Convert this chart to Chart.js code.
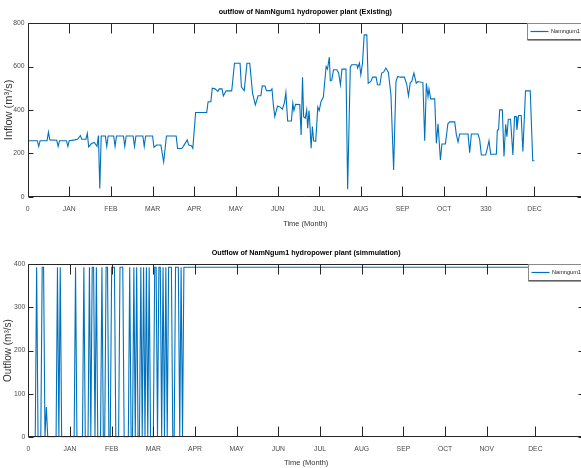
<!DOCTYPE html>
<html>
<head>
<meta charset="utf-8">
<script src="https://cdn.jsdelivr.net/npm/chart.js@4.4.1/dist/chart.umd.min.js"></script>
<style>
html, body { margin: 0; padding: 0; background: #fff; overflow: hidden; width: 581px; height: 468px; }
.box { position: absolute; left: 0; height: 234px; }
</style>
</head>
<body>
<div class="box" style="top:0;width:583px"><canvas id="topChart"></canvas></div>
<div class="box" style="top:234px;width:584px"><canvas id="bottomChart"></canvas></div>
<script>
// x ticks (day of year) and their labels
var tickDays = [0, 30, 60, 90, 120, 150, 180, 210, 240, 270, 300, 330, 365];
var topTickLabels = ['0', 'JAN', 'FEB', 'MAR', 'APR', 'MAY', 'JUN', 'JUL', 'AUG', 'SEP', 'OCT', '330', 'DEC'];
var bottomTickLabels = ['0', 'JAN', 'FEB', 'MAR', 'APR', 'MAY', 'JUN', 'JUL', 'AUG', 'SEP', 'OCT', 'NOV', 'DEC'];

// existing outflow
var existDays = [1, 7, 8, 9, 14, 15, 16, 21, 22, 23, 28, 29, 30, 34, 36, 38, 39, 42, 43, 44, 46, 48, 50, 51, 52, 53,
  56, 57, 58, 62, 63, 64, 69, 70, 71, 76, 77, 78, 83, 84, 85, 90, 91, 93, 96, 98, 100, 107, 108, 111, 112,
  115, 116, 118, 119, 121, 129, 130, 132, 133, 135, 137, 138, 140, 141, 143, 147, 149, 153, 154, 156, 158,
  160, 161, 162, 164, 166, 168, 169, 171, 172, 175, 176, 177, 178, 180, 182, 183.5, 185, 186, 187.3, 190,
  191, 191.8, 193, 196, 197, 198, 198.8, 200, 201, 201.7, 202.7, 203.4, 204.2, 205.1, 206, 207.5, 209, 210,
  211.3, 213, 215, 216, 217.3, 218, 219, 220.3, 222.7, 224, 225.3, 226.4, 229.3, 230.5, 232.4, 233.4, 237.2,
  237.7, 239, 240, 241.2, 242.4, 244.3, 245.3, 247.2, 248.5, 251, 252, 253.7, 255, 256.4, 258, 259.8, 261.7,
  263.6, 265.3, 266.5, 268.4, 271.4, 273.1, 274.3, 275.6, 276.7, 278.2, 279.9, 281.1, 284.7, 286, 287.2,
  288.4, 289.1, 290.3, 293.2, 294.4, 295.6, 297.3, 298.4, 300.9, 302.7, 304, 307.6, 308.8, 310, 311.2,
  317.2, 318.4, 319.6, 324.4, 325.6, 326.8, 329.9, 331.1, 332.3, 333.5, 337.6, 338.3, 339.2, 340, 341.9,
  343.1, 344.3, 345.2, 346.2, 347.8, 349.5, 350.7, 351.9, 352.4, 353.6, 355.5, 356.7, 358.6, 362, 363.8, 365];
var existFlow = [258, 258, 232, 258, 258, 298, 262, 260, 232, 258, 258, 232, 258, 262, 265, 282, 265, 265, 292, 230, 245, 250, 232, 282, 38, 280,
  280, 232, 280, 280, 232, 280, 280, 232, 280, 280, 232, 280, 280, 232, 280, 280, 228, 238, 238, 160, 280, 280, 222, 222, 231,
  262, 238, 235, 223, 388, 388, 438, 438, 500, 497, 485, 497, 497, 465, 488, 488, 615, 615, 505, 489, 615,
  615, 546, 477, 423, 465, 465, 511, 510, 489, 489, 497, 423, 369, 418, 413, 403, 434, 480, 349, 349,
  431, 397, 426, 425, 285, 551, 369, 362, 400, 316, 397, 323, 223, 323, 258, 255, 413, 397,
  438, 459, 600, 588, 643, 534, 536, 585, 585, 570, 516, 588, 588, 34, 597, 608, 608,
  593, 616, 562, 616, 746, 746, 523, 531, 551, 551, 516, 515, 570, 574, 593, 574, 469,
  123, 531, 554, 551, 551, 516, 465, 526, 531, 570, 523, 531, 526, 258, 523,
  461, 497, 451, 451, 246, 336, 169, 243, 243, 336, 345, 345, 285, 252, 289,
  289, 203, 289, 289, 262, 192, 192, 223, 258, 196, 196, 305, 311, 400, 400,
  185, 334, 277, 357, 357, 192, 369, 369, 308, 374, 374, 208, 488, 488, 166, 166];

// simulated outflow
var simDays = [0, 5, 6, 7, 9, 10, 11, 12, 13, 14, 20, 21, 22, 23, 24, 33, 34, 35, 39, 40, 41, 43, 44, 45, 46, 47, 48, 49, 50,
  52, 53, 54, 55, 56, 57, 58, 59, 60, 62, 63, 65, 66, 68, 69, 72, 73, 74, 75, 76, 77, 78, 79, 80, 81, 82, 83, 84,
  85, 86, 87, 88, 90, 91, 92, 93, 94, 95, 96, 97, 98, 99, 100, 101, 103, 104, 105, 106, 108, 109, 110, 111, 112, 400];
var simFlow = [0, 0, 392, 0, 0, 392, 392, 0, 70, 0, 0, 392, 0, 392, 0, 0, 392, 0, 0, 392, 0, 0, 392, 0, 392, 392, 0, 392, 0,
  0, 392, 0, 0, 392, 392, 0, 0, 392, 392, 0, 0, 392, 392, 0, 0, 392, 0, 0, 392, 0, 392, 0, 0, 392, 0, 392, 0,
  392, 0, 392, 0, 0, 392, 392, 0, 392, 392, 0, 392, 0, 392, 0, 392, 392, 0, 0, 392, 392, 0, 392, 0, 392, 392];

var FONT = '"Liberation Sans", Arial, Helvetica, sans-serif';
var LINE = 'rgb(0,114,189)';

function pts(xs, ys) {
  return xs.map(function (x, i) { return { x: x, y: ys[i] }; });
}

// MATLAB style box, inward ticks and a legend inside the axes
var matlabAxes = {
  id: 'matlabAxes',
  afterDatasetsDraw: function (chart) {
    var a = chart.chartArea, ctx = chart.ctx;
    var xs = chart.scales.x, ys = chart.scales.y;
    ctx.save();
    ctx.strokeStyle = '#262626';
    ctx.lineWidth = 1;
    ctx.beginPath();
    var L = Math.round(a.left) + 0.5, T = Math.round(a.top) + 0.5;
    var R = Math.round(a.right) - 0.5, B = Math.round(a.bottom) - 0.5;
    ctx.rect(L, T, R - L, B - T);
    xs.ticks.forEach(function (t) {
      var px = Math.round(xs.getPixelForValue(t.value)) + 0.5;
      ctx.moveTo(px, B); ctx.lineTo(px, B - 10);
      ctx.moveTo(px, T); ctx.lineTo(px, T + 10);
    });
    ys.ticks.forEach(function (t) {
      var py = Math.round(ys.getPixelForValue(t.value)) + 0.5;
      ctx.moveTo(L, py); ctx.lineTo(L + 5, py);
      ctx.moveTo(R, py); ctx.lineTo(R - 5, py);
    });
    ctx.stroke();

    // legend
    var lx = Math.round(a.right) - 55.5, ly = T;
    ctx.fillStyle = '#fff';
    ctx.fillRect(lx, ly, 70, 16);
    ctx.strokeStyle = '#8a8a8a';
    ctx.strokeRect(lx, ly, 70, 16);
    ctx.strokeStyle = '#3a3a3a';
    ctx.beginPath();
    ctx.moveTo(lx, ly + 16.5); ctx.lineTo(lx + 70, ly + 16.5);
    ctx.stroke();
    ctx.strokeStyle = LINE;
    ctx.lineWidth = 1.2;
    ctx.beginPath();
    ctx.moveTo(lx + 3, ly + 8); ctx.lineTo(lx + 21, ly + 8);
    ctx.stroke();
    ctx.fillStyle = '#222';
    ctx.font = '5.6px ' + FONT;
    ctx.textBaseline = 'middle';
    ctx.fillText('Namngum1', lx + 23.5, ly + 8);
    ctx.restore();
  }
};

function makeChart(id, opt) {
  return new Chart(document.getElementById(id), {
    type: 'line',
    data: {
      datasets: [{
        label: 'Namngum1',
        data: pts(opt.days, opt.flow),
        borderColor: LINE,
        borderWidth: opt.width,
        pointRadius: 0,
        tension: 0
      }]
    },
    options: {
      responsive: true,
      maintainAspectRatio: false,
      animation: false,
      layout: { padding: 0 },
      plugins: {
        legend: { display: false },
        tooltip: { enabled: false },
        title: {
          display: true,
          fullSize: false,
          text: opt.title,
          color: '#000',
          font: { family: FONT, size: 7.2, weight: 'bold' },
          padding: opt.titlePad
        }
      },
      scales: {
        x: {
          type: 'linear',
          min: 0,
          max: 400,
          grid: { display: false, drawTicks: false },
          border: { display: false },
          afterBuildTicks: function (s) {
            s.ticks = tickDays.map(function (v) { return { value: v }; });
          },
          afterFit: function (s) { s.height = opt.xHeight; },
          ticks: {
            autoSkip: false,
            maxRotation: 0,
            padding: 8,
            color: '#4a4a4a',
            font: { family: FONT, size: 6.8 },
            callback: function (v) { return opt.labels[tickDays.indexOf(v)]; }
          },
          title: {
            display: true,
            text: 'Time (Month)',
            color: '#333',
            font: { family: FONT, size: 7.5 },
            padding: { top: 0, bottom: opt.xTitlePad }
          }
        },
        y: {
          min: 0,
          max: opt.yMax,
          grid: { display: false, drawTicks: false },
          border: { display: false },
          afterFit: function (s) { s.width = opt.yWidth; },
          ticks: {
            stepSize: opt.yStep,
            padding: 3,
            color: '#4a4a4a',
            font: { family: FONT, size: 6.8 }
          },
          title: {
            display: true,
            text: opt.yTitle,
            color: '#333',
            font: { family: FONT, size: opt.yTitleSize },
            padding: { top: 2, bottom: 0 }
          }
        }
      }
    },
    plugins: [matlabAxes]
  });
}

makeChart('topChart', {
  days: existDays, flow: existFlow, width: 1.1,
  title: 'outflow of NamNgum1 hydropower plant (Existing)',
  titlePad: { top: 7.6, bottom: 6.9 },
  labels: topTickLabels, xHeight: 37.3, xTitlePad: 5.5, yWidth: 27.6,
  yMax: 800, yStep: 200, yTitle: 'Inflow (m\u00B3/s)', yTitleSize: 11
});

makeChart('bottomChart', {
  days: simDays, flow: simFlow, width: 1.1,
  title: 'Outflow of NamNgum1 hydropower plant (simmulation)',
  titlePad: { top: 14.6, bottom: 6.6 },
  labels: bottomTickLabels, xHeight: 30.7, xTitlePad: 0.5, yWidth: 28.3,
  yMax: 400, yStep: 100, yTitle: 'Outflow (m\u00B3/s)', yTitleSize: 10
});
</script>
</body>
</html>
